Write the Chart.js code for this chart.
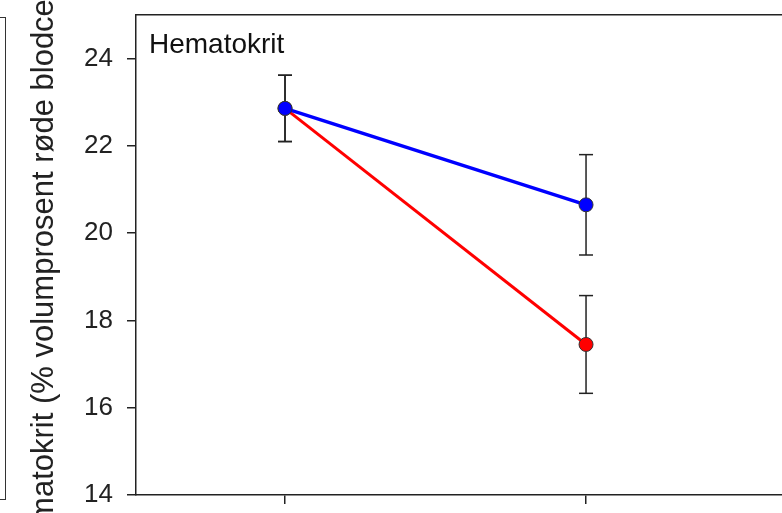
<!DOCTYPE html>
<html>
<head>
<meta charset="utf-8">
<script src="https://cdn.jsdelivr.net/npm/chart.js@4/dist/chart.umd.min.js"></script>
<style>
  html, body { margin: 0; padding: 0; background: #fff; overflow: hidden; }
  #wrap { position: relative; width: 782px; height: 513px; }
  #prevPanel { position: absolute; left: -10px; top: 17px; width: 14px; height: 481px; border: 1.5px solid #333; }
  canvas { display: block; }
</style>
</head>
<body>
<div id="wrap">
  <div id="prevPanel"></div>
  <canvas id="hematokrit" width="782" height="513"></canvas>
</div>
<script>
// time points (x positions) and y ticks
const timePoints = [1, 2]
const yTicks = [14, 16, 18, 20, 22, 24]

// group means and error (+/-)
const blueMean = [22.86, 20.65]
const blueErr = [0.76, 1.15]
const redMean = [22.86, 17.45]
const redErr = [0.76, 1.12]

const panelLabel = 'Hematokrit'
const yTitle = 'Hematokrit (% volumprosent røde blodceller)'

Chart.defaults.font.family = '"Liberation Sans", Arial, sans-serif'
Chart.defaults.color = '#222'

const toPoints = means => means.map((m, i) => ({ x: timePoints[i], y: m }))

const errorSets = (means, errs) => means.map((m, i) => ({
  data: [{ x: timePoints[i], y: m - errs[i] }, { x: timePoints[i], y: m + errs[i] }],
  showLine: true,
  borderColor: '#222',
  borderWidth: 1.5,
  pointStyle: 'line',
  pointRadius: 7,
  pointBorderWidth: 1.5,
  pointBorderColor: '#222',
  pointBackgroundColor: '#222'
}))

const panelText = {
  id: 'panelText',
  afterDraw(chart) {
    const { ctx, chartArea } = chart
    ctx.save()
    ctx.font = '28px "Liberation Sans", Arial, sans-serif'
    ctx.fillStyle = '#111'
    ctx.textBaseline = 'alphabetic'
    ctx.fillText(panelLabel, chartArea.left + 13, chartArea.top + 38)
    ctx.restore()
  }
}

const noPad = scale => { scale.paddingLeft = 0; scale.paddingRight = 0; scale.paddingTop = 0; scale.paddingBottom = 0 }
const axisLine = { color: '#222', width: 1.5 }
const tickGrid = { drawOnChartArea: false, tickLength: 9, color: '#222', lineWidth: 1.5 }

new Chart(document.getElementById('hematokrit').getContext('2d'), {
  type: 'scatter',
  data: {
    datasets: [
      {
        data: toPoints(blueMean),
        showLine: true,
        borderColor: 'rgb(0,0,255)',
        borderWidth: 3.5,
        pointRadius: 7,
        pointBackgroundColor: 'rgb(0,0,255)',
        pointBorderColor: '#333',
        pointBorderWidth: 1
      },
      {
        data: toPoints(redMean),
        showLine: true,
        borderColor: 'rgb(255,0,0)',
        borderWidth: 3,
        pointRadius: 7,
        pointBackgroundColor: 'rgb(255,0,0)',
        pointBorderColor: '#333',
        pointBorderWidth: 1
      },
      ...errorSets(blueMean, blueErr),
      ...errorSets(redMean, redErr)
    ]
  },
  options: {
    responsive: false,
    animation: false,
    layout: { autoPadding: false, padding: { top: 15, left: 0, right: 0, bottom: 0 } },
    plugins: { legend: { display: false }, tooltip: { enabled: false } },
    scales: {
      x: {
        type: 'linear',
        position: 'bottom',
        min: 0.505,
        max: 2.651,
        afterBuildTicks: scale => { scale.ticks = timePoints.map(v => ({ value: v })) },
        afterFit: scale => { scale.height = 18; noPad(scale) },
        ticks: { callback: () => '', padding: 0 },
        grid: tickGrid,
        border: axisLine
      },
      xTop: {
        type: 'linear',
        position: 'top',
        min: 0,
        max: 1,
        afterFit: scale => { scale.height = 0; noPad(scale) },
        ticks: { display: false },
        grid: { display: false },
        border: axisLine
      },
      y: {
        min: 14,
        max: 25,
        afterBuildTicks: scale => { scale.ticks = yTicks.map(v => ({ value: v })) },
        afterFit: scale => { scale.width = 136; noPad(scale) },
        ticks: { font: { size: 26 }, padding: 14, color: '#222' },
        grid: tickGrid,
        border: axisLine,
        title: {
          display: true,
          text: yTitle,
          font: { size: 31 },
          color: '#222',
          padding: { top: 26, bottom: 0 }
        }
      }
    }
  },
  plugins: [panelText]
})
</script>
</body>
</html>
